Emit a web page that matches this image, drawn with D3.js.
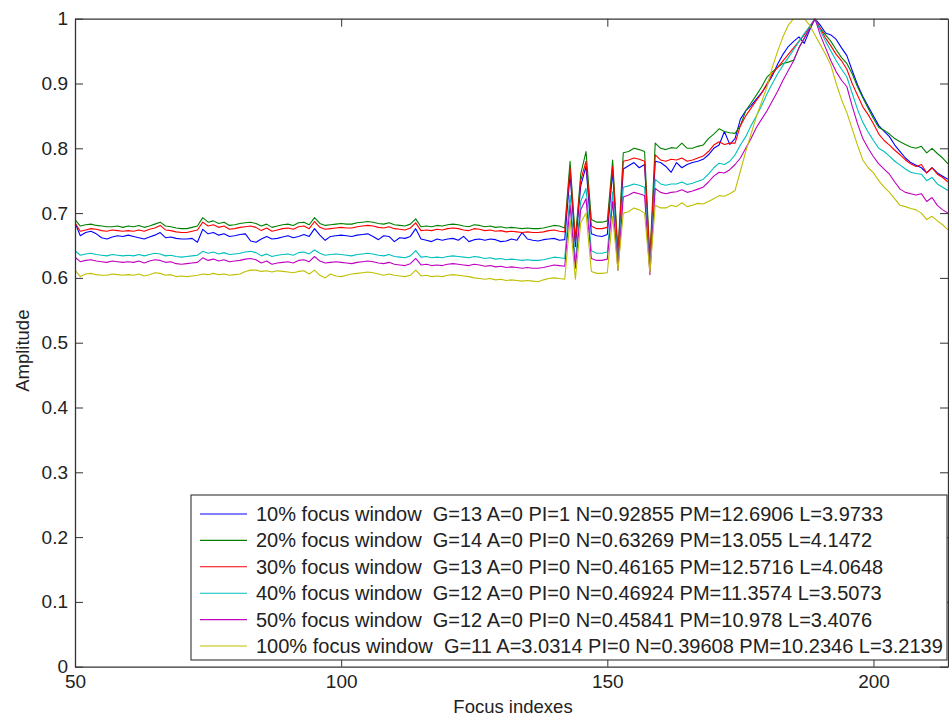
<!DOCTYPE html>
<html>
<head>
<meta charset="utf-8">
<script src="https://cdn.jsdelivr.net/npm/d3@7"></script>
<style>
  html, body { margin: 0; padding: 0; background: #fff; }
  svg { display: block; }
  text { font-family: "Liberation Sans", Arial, sans-serif; fill: #222; }
</style>
</head>
<body>
<svg id="chart" width="949" height="718"></svg>
<script>
// Focus index of the first sample; samples are one index apart.
const firstIndex = 50;

// Amplitude per focus index (50 .. 214), one array per focus window.
const win10 = [
  .685,.665,.670,.672,.668,.662,.660,.663,.665,.664,
  .666,.664,.662,.660,.663,.666,.670,.662,.663,.661,
  .660,.660,.661,.655,.675,.668,.670,.666,.668,.664,
  .665,.667,.668,.657,.655,.660,.664,.660,.661,.663,
  .665,.662,.664,.667,.664,.676,.666,.658,.664,.665,
  .666,.665,.664,.666,.667,.668,.664,.659,.665,.664,
  .656,.662,.661,.664,.676,.660,.658,.656,.660,.658,
  .660,.661,.658,.664,.656,.659,.660,.658,.660,.659,
  .656,.657,.660,.658,.670,.660,.658,.657,.659,.660,
  .661,.658,.659,.760,.648,.742,.772,.668,.665,.664,
  .667,.765,.628,.768,.773,.778,.770,.775,.618,.780,
  .778,.772,.763,.778,.770,.775,.778,.780,.783,.790,
  .800,.805,.826,.806,.815,.845,.858,.866,.876,.886,
  .898,.912,.930,.945,.957,.965,.972,.962,.982,1.000,
  .990,.978,.975,.968,.955,.943,.920,.898,.880,.865,
  .850,.835,.826,.818,.805,.795,.785,.778,.774,.770,
  .762,.770,.762,.757,.752
];
const win20 = [
  .690,.680,.682,.683,.681,.680,.679,.679,.680,.678,
  .680,.679,.681,.678,.680,.683,.686,.680,.679,.677,
  .676,.676,.678,.680,.693,.686,.688,.684,.686,.681,
  .682,.684,.685,.686,.684,.680,.683,.678,.680,.682,
  .683,.681,.685,.686,.682,.693,.684,.681,.682,.683,
  .684,.683,.683,.685,.686,.687,.686,.684,.683,.685,
  .682,.681,.680,.683,.691,.679,.680,.679,.681,.680,
  .682,.683,.682,.680,.679,.682,.681,.679,.680,.678,
  .679,.677,.678,.677,.676,.677,.676,.676,.677,.679,
  .681,.680,.677,.780,.660,.760,.795,.690,.686,.686,
  .688,.782,.640,.793,.795,.800,.798,.795,.630,.808,
  .800,.798,.801,.800,.808,.800,.800,.803,.805,.815,
  .822,.830,.826,.824,.823,.835,.858,.870,.882,.895,
  .910,.918,.925,.931,.933,.936,.955,.970,.985,1.000,
  .985,.975,.965,.952,.940,.931,.915,.895,.878,.862,
  .846,.832,.828,.822,.815,.810,.806,.802,.800,.803,
  .793,.800,.792,.785,.776
];
const win30 = [
  .685,.672,.674,.676,.675,.673,.672,.674,.673,.672,
  .673,.672,.674,.672,.675,.677,.681,.674,.673,.671,
  .670,.670,.672,.674,.686,.680,.682,.678,.680,.675,
  .676,.678,.679,.680,.678,.673,.677,.672,.674,.676,
  .677,.675,.679,.680,.676,.687,.678,.675,.676,.677,
  .678,.677,.677,.679,.680,.681,.680,.678,.677,.679,
  .676,.675,.674,.677,.685,.673,.674,.673,.675,.674,
  .676,.677,.676,.674,.673,.676,.675,.673,.674,.672,
  .673,.671,.672,.671,.670,.671,.670,.670,.671,.673,
  .674,.672,.671,.770,.655,.750,.780,.680,.676,.676,
  .678,.772,.635,.780,.782,.785,.783,.780,.625,.790,
  .782,.780,.783,.782,.785,.780,.782,.785,.788,.795,
  .805,.810,.806,.808,.808,.835,.850,.862,.874,.885,
  .900,.915,.925,.935,.945,.955,.965,.975,.988,1.000,
  .985,.970,.958,.945,.935,.922,.900,.882,.864,.852,
  .838,.822,.812,.805,.797,.790,.782,.776,.772,.775,
  .762,.770,.760,.755,.748
];
const win40 = [
  .642,.635,.637,.638,.636,.635,.634,.636,.635,.634,
  .635,.634,.636,.634,.636,.638,.637,.634,.635,.633,
  .632,.633,.634,.635,.641,.638,.640,.637,.639,.636,
  .637,.638,.640,.641,.639,.634,.637,.633,.635,.636,
  .637,.635,.639,.640,.637,.643,.638,.635,.636,.637,
  .636,.635,.634,.636,.637,.638,.637,.635,.634,.636,
  .633,.632,.631,.634,.642,.632,.633,.631,.632,.631,
  .633,.634,.633,.632,.631,.633,.632,.630,.631,.629,
  .630,.628,.629,.628,.627,.628,.627,.627,.628,.630,
  .632,.631,.630,.728,.625,.718,.738,.642,.638,.638,
  .640,.733,.620,.740,.742,.745,.743,.740,.612,.752,
  .745,.743,.745,.745,.748,.744,.746,.749,.752,.760,
  .770,.777,.775,.780,.790,.805,.818,.835,.850,.866,
  .884,.900,.915,.928,.940,.952,.965,.977,.988,1.000,
  .982,.965,.950,.935,.922,.910,.885,.860,.840,.825,
  .812,.800,.795,.788,.780,.774,.768,.763,.761,.760,
  .750,.755,.745,.740,.735
];
const win50 = [
  .632,.625,.627,.628,.626,.625,.624,.626,.625,.624,
  .625,.624,.626,.623,.626,.628,.627,.624,.625,.622,
  .621,.622,.623,.624,.631,.627,.629,.626,.628,.625,
  .626,.627,.629,.630,.628,.623,.626,.621,.623,.624,
  .625,.623,.627,.628,.625,.633,.626,.623,.624,.625,
  .624,.623,.622,.624,.625,.626,.625,.623,.622,.624,
  .621,.620,.619,.622,.630,.620,.621,.619,.620,.619,
  .621,.622,.621,.620,.619,.621,.620,.618,.619,.617,
  .618,.616,.617,.616,.615,.616,.615,.615,.616,.618,
  .620,.619,.618,.712,.615,.705,.722,.630,.627,.627,
  .629,.718,.612,.725,.728,.732,.730,.727,.605,.738,
  .732,.730,.732,.733,.736,.732,.734,.737,.740,.748,
  .757,.763,.762,.767,.775,.785,.800,.815,.832,.845,
  .858,.873,.888,.905,.920,.935,.955,.970,.985,1.000,
  .975,.955,.935,.918,.905,.895,.865,.838,.815,.800,
  .787,.776,.768,.760,.748,.737,.732,.730,.728,.730,
  .718,.724,.712,.705,.700
];
const win100 = [
  .612,.602,.606,.607,.605,.604,.604,.606,.605,.604,
  .605,.604,.606,.603,.605,.608,.607,.604,.605,.602,
  .603,.602,.603,.604,.606,.605,.607,.605,.606,.604,
  .605,.606,.610,.612,.612,.610,.611,.609,.611,.610,
  .609,.608,.610,.611,.606,.612,.604,.600,.606,.603,
  .602,.604,.606,.607,.608,.609,.608,.606,.604,.606,
  .604,.603,.602,.604,.612,.603,.604,.602,.603,.602,
  .604,.605,.604,.603,.602,.600,.599,.598,.599,.597,
  .598,.596,.597,.596,.595,.596,.595,.594,.597,.599,
  .600,.599,.598,.690,.598,.685,.700,.610,.607,.607,
  .608,.695,.612,.700,.702,.708,.705,.700,.608,.712,
  .708,.708,.712,.710,.716,.710,.712,.715,.714,.718,
  .722,.727,.726,.730,.735,.765,.795,.822,.849,.872,
  .895,.925,.950,.972,.990,1.000,1.000,1.000,.990,.975,
  .960,.945,.928,.900,.875,.855,.830,.805,.782,.770,
  .762,.750,.740,.732,.722,.712,.710,.707,.705,.700,
  .690,.695,.688,.682,.674
];

const seriesValues = [win10, win20, win30, win40, win50, win100];
const seriesColors = ["#0000ff", "#008000", "#ff0000", "#00bfbf", "#bf00bf", "#bfbf00"];
const legendLabels = [
  "10% focus window  G=13 A=0 PI=1 N=0.92855 PM=12.6906 L=3.9733",
  "20% focus window  G=14 A=0 PI=0 N=0.63269 PM=13.055 L=4.1472",
  "30% focus window  G=13 A=0 PI=0 N=0.46165 PM=12.5716 L=4.0648",
  "40% focus window  G=12 A=0 PI=0 N=0.46924 PM=11.3574 L=3.5073",
  "50% focus window  G=12 A=0 PI=0 N=0.45841 PM=10.978 L=3.4076",
  "100% focus window  G=11 A=3.0314 PI=0 N=0.39608 PM=10.2346 L=3.2139"
];
const xTicks = [50, 100, 150, 200];
const yTicks = [0, 0.1, 0.2, 0.3, 0.4, 0.5, 0.6, 0.7, 0.8, 0.9, 1];
const xLabel = "Focus indexes";
const yLabel = "Amplitude";

const svg = d3.select("#chart");
const plot = { left: 75, right: 948, top: 18.7, bottom: 666.7 };

const x = d3.scaleLinear().domain([50, 214]).range([plot.left, plot.right]);
const y = d3.scaleLinear().domain([0, 1]).range([plot.bottom, plot.top]);

svg.append("rect").attr("width", 949).attr("height", 718).attr("fill", "#fff");

svg.append("defs").append("clipPath").attr("id", "plotclip")
  .append("rect")
  .attr("x", plot.left).attr("y", plot.top)
  .attr("width", plot.right - plot.left).attr("height", plot.bottom - plot.top);

// Data lines
const line = d3.line()
  .x((d, i) => x(firstIndex + i))
  .y(d => y(d));

svg.append("g").attr("clip-path", "url(#plotclip)")
  .selectAll("path")
  .data(seriesValues)
  .join("path")
  .attr("d", line)
  .attr("fill", "none")
  .attr("stroke", (d, i) => seriesColors[i])
  .attr("stroke-width", 1.1)
  .attr("stroke-linejoin", "round");

// Axes: ticks point inward, mirrored on top and right
const axisColor = "#333";
function styleAxis(g, showLabels) {
  g.selectAll(".domain").attr("stroke", axisColor).attr("stroke-width", 1.3);
  g.selectAll(".tick line").attr("stroke", axisColor).attr("stroke-width", 1);
  g.selectAll(".tick text")
    .attr("fill", "#222")
    .style("font-size", "19px")
    .style("font-family", "'Liberation Sans', Arial, sans-serif");
  if (!showLabels) g.selectAll(".tick text").remove();
}

svg.append("g")
  .attr("transform", `translate(0,${plot.bottom})`)
  .call(d3.axisBottom(x).tickValues(xTicks).tickSizeInner(-8).tickSizeOuter(0).tickPadding(8))
  .call(g => styleAxis(g, true));

svg.append("g")
  .attr("transform", `translate(0,${plot.top})`)
  .call(d3.axisTop(x).tickValues(xTicks).tickSizeInner(-8).tickSizeOuter(0))
  .call(g => styleAxis(g, false));

svg.append("g")
  .attr("transform", `translate(${plot.left},0)`)
  .call(d3.axisLeft(y).tickValues(yTicks).tickFormat(d3.format("~g")).tickSizeInner(-8).tickSizeOuter(0).tickPadding(7))
  .call(g => styleAxis(g, true));

svg.append("g")
  .attr("transform", `translate(${plot.right},0)`)
  .call(d3.axisRight(y).tickValues(yTicks).tickSizeInner(-8).tickSizeOuter(0))
  .call(g => styleAxis(g, false));

// Axis titles
svg.append("text")
  .attr("x", 513)
  .attr("y", 713)
  .attr("text-anchor", "middle")
  .style("font-size", "18.5px")
  .text(xLabel);

svg.append("text")
  .attr("transform", `translate(29,${(plot.top + plot.bottom) / 2 + 8}) rotate(-90)`)
  .attr("text-anchor", "middle")
  .style("font-size", "18.5px")
  .text(yLabel);

// Legend
const legend = { left: 191, top: 495, right: 947, bottom: 660, row0: 514, rowStep: 26.4 };
const lg = svg.append("g");
lg.append("rect")
  .attr("x", legend.left).attr("y", legend.top)
  .attr("width", legend.right - legend.left).attr("height", legend.bottom - legend.top)
  .attr("fill", "#fff").attr("stroke", axisColor).attr("stroke-width", 1.1);

const rows = lg.selectAll("g.row")
  .data(legendLabels)
  .join("g")
  .attr("class", "row")
  .attr("transform", (d, i) => `translate(0,${legend.row0 + i * legend.rowStep})`);

rows.append("line")
  .attr("x1", 200).attr("x2", 247).attr("y1", 0).attr("y2", 0)
  .attr("stroke", (d, i) => seriesColors[i])
  .attr("stroke-width", 1.1);

rows.append("text")
  .attr("x", 256).attr("y", 7)
  .style("font-size", "20px")
  .style("white-space", "pre")
  .text(d => d);
</script>
</body>
</html>
